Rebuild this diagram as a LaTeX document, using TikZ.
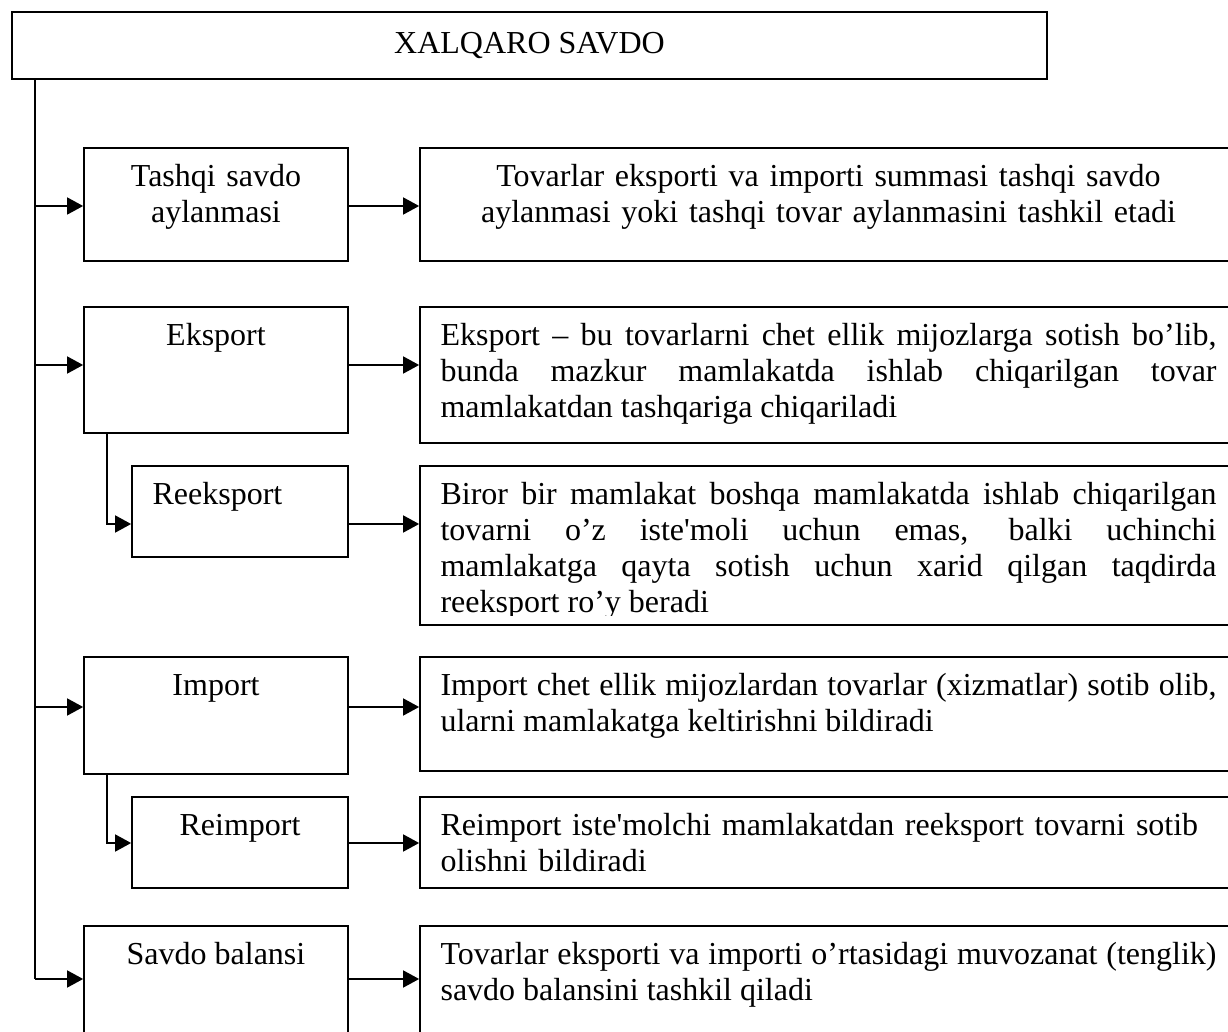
\documentclass[tikz,border=0pt]{standalone}
\usepackage{fontspec}
\setmainfont{Liberation Serif}
\usetikzlibrary{arrows.meta,calc}
\tikzset{block/.style={draw,line width=.85pt,inner sep=0pt},
 link/.style={line width=.75pt},
 feed/.style={link,-{Triangle[length=8pt,width=8.5pt]}},
 words/.style={inner sep=0pt},
 every node/.style={font=\fontsize{16}{18}\selectfont}}

\begin{document}
\begin{tikzpicture}[x=.5pt,y=-.5pt]
\useasboundingbox (0,0) rectangle (1228,1032);
\clip (0,0) rectangle (1228,1032);
\node[block,minimum width=517.5pt,minimum height=33.5pt] (title) at (529.5,45.5) {XALQARO SAVDO};
% left column
\foreach \blk/\cx/\cy/\w/\h in {tashqi/216/204.5/132/56.5,eksport/216/370/132/63,
 reeksport/240/511.5/108/45.5,import/216/715.5/132/58.5,reimport/240/842.5/108/45.5,
 savdo/216/993/132/67}
 \node[block,minimum width=\w pt,minimum height=\h pt] (\blk) at (\cx,\cy) {};
% right column
\foreach \blk/\cy/\h in {tashqi/204.5/56.5,eksport/375/68,reeksport/545.5/79.5,
 import/714/57,reimport/842.5/45.5,savdo/993/67}
 \node[block,minimum width=410pt,minimum height=\h pt] (\blk-desc) at (830,\cy) {};
% labels
\node[words,anchor=base,text width=132pt,align=center] (tashqi-lbl) at ([yshift=-19.5pt]tashqi.north) {Tashqi savdo\\aylanmasi};
\node[words,anchor=base] (eksport-lbl) at ([yshift=-19.5pt]eksport.north) {Eksport};
\node[words,anchor=base west] (reeksport-lbl) at ([xshift=10.5pt,yshift=-19.5pt]reeksport.north west) {Reeksport};
\node[words,anchor=base] (import-lbl) at ([yshift=-19.5pt]import.north) {Import};
\node[words,anchor=base] (reimport-lbl) at ([yshift=-19.5pt]reimport.north) {Reimport};
\node[words,anchor=base] (savdo-lbl) at ([yshift=-19.5pt]savdo.north) {Savdo balansi};
% descriptions
\node[words,anchor=base west,text width=388pt,align=center] (tashqi-txt) at ([xshift=10.5pt,yshift=-19.5pt]tashqi-desc.north west)
 {Tovarlar eksporti va importi summasi tashqi savdo\\aylanmasi yoki tashqi tovar aylanmasini tashkil etadi};
\node[words,anchor=base west,text width=388pt,align=justify] (eksport-txt) at ([xshift=10.5pt,yshift=-19.5pt]eksport-desc.north west)
 {Eksport – bu tovarlarni chet ellik mijozlarga sotish bo’lib,\linebreak bunda mazkur mamlakatda ishlab chiqarilgan tovar\linebreak mamlakatdan tashqariga chiqariladi};
\begin{scope}
\clip (reeksport-desc.north west) rectangle ([yshift=5pt]reeksport-desc.south east);
\node[words,anchor=base west,text width=388pt,align=justify] (reeksport-txt) at ([xshift=10.5pt,yshift=-19.5pt]reeksport-desc.north west)
 {Biror bir mamlakat boshqa mamlakatda ishlab chiqarilgan\linebreak tovarni o’z iste\textquotesingle moli uchun emas, balki uchinchi\linebreak mamlakatga qayta sotish uchun xarid qilgan taqdirda\linebreak reeksport ro’y beradi};
\end{scope}
\node[words,anchor=base west,text width=388pt,align=justify] (import-txt) at ([xshift=10.5pt,yshift=-19.5pt]import-desc.north west)
 {Import chet ellik mijozlardan tovarlar (xizmatlar) sotib olib,\linebreak ularni mamlakatga keltirishni bildiradi};
\node[words,anchor=base west,text width=388pt,align=left] (reimport-txt) at ([xshift=10.5pt,yshift=-19.5pt]reimport-desc.north west)
 {Reimport iste\textquotesingle molchi mamlakatdan reeksport tovarni sotib\\olishni bildiradi};
\node[words,anchor=base west,text width=388pt,align=justify] (savdo-txt) at ([xshift=10.5pt,yshift=-19.5pt]savdo-desc.north west)
 {Tovarlar eksporti va importi o’rtasidagi muvozanat (tenglik)\linebreak savdo balansini tashkil qiladi};
% connectors
\coordinate (trunk) at ([xshift=12pt]title.south west);
\foreach \blk/\dy in {tashqi/-.75,eksport/2.5,reeksport/-6.25,import/4.25,reimport/-.25,savdo/7} {
 \coordinate (\blk-in) at ([yshift=\dy pt]\blk.west);
 \coordinate (\blk-out) at ([yshift=\dy pt]\blk.east);
 \draw[feed] (\blk-out) -- (\blk-out -| \blk-desc.west);
}
\draw[link] (trunk) -- (trunk |- savdo-in);
\foreach \blk in {tashqi,eksport,import,savdo}
 \draw[feed] (trunk |- \blk-in) -- (\blk-in);
\draw[feed] ([xshift=12pt]eksport.south west) |- (reeksport-in);
\draw[feed] ([xshift=12pt]import.south west) |- (reimport-in);
\end{tikzpicture}
\end{document}
